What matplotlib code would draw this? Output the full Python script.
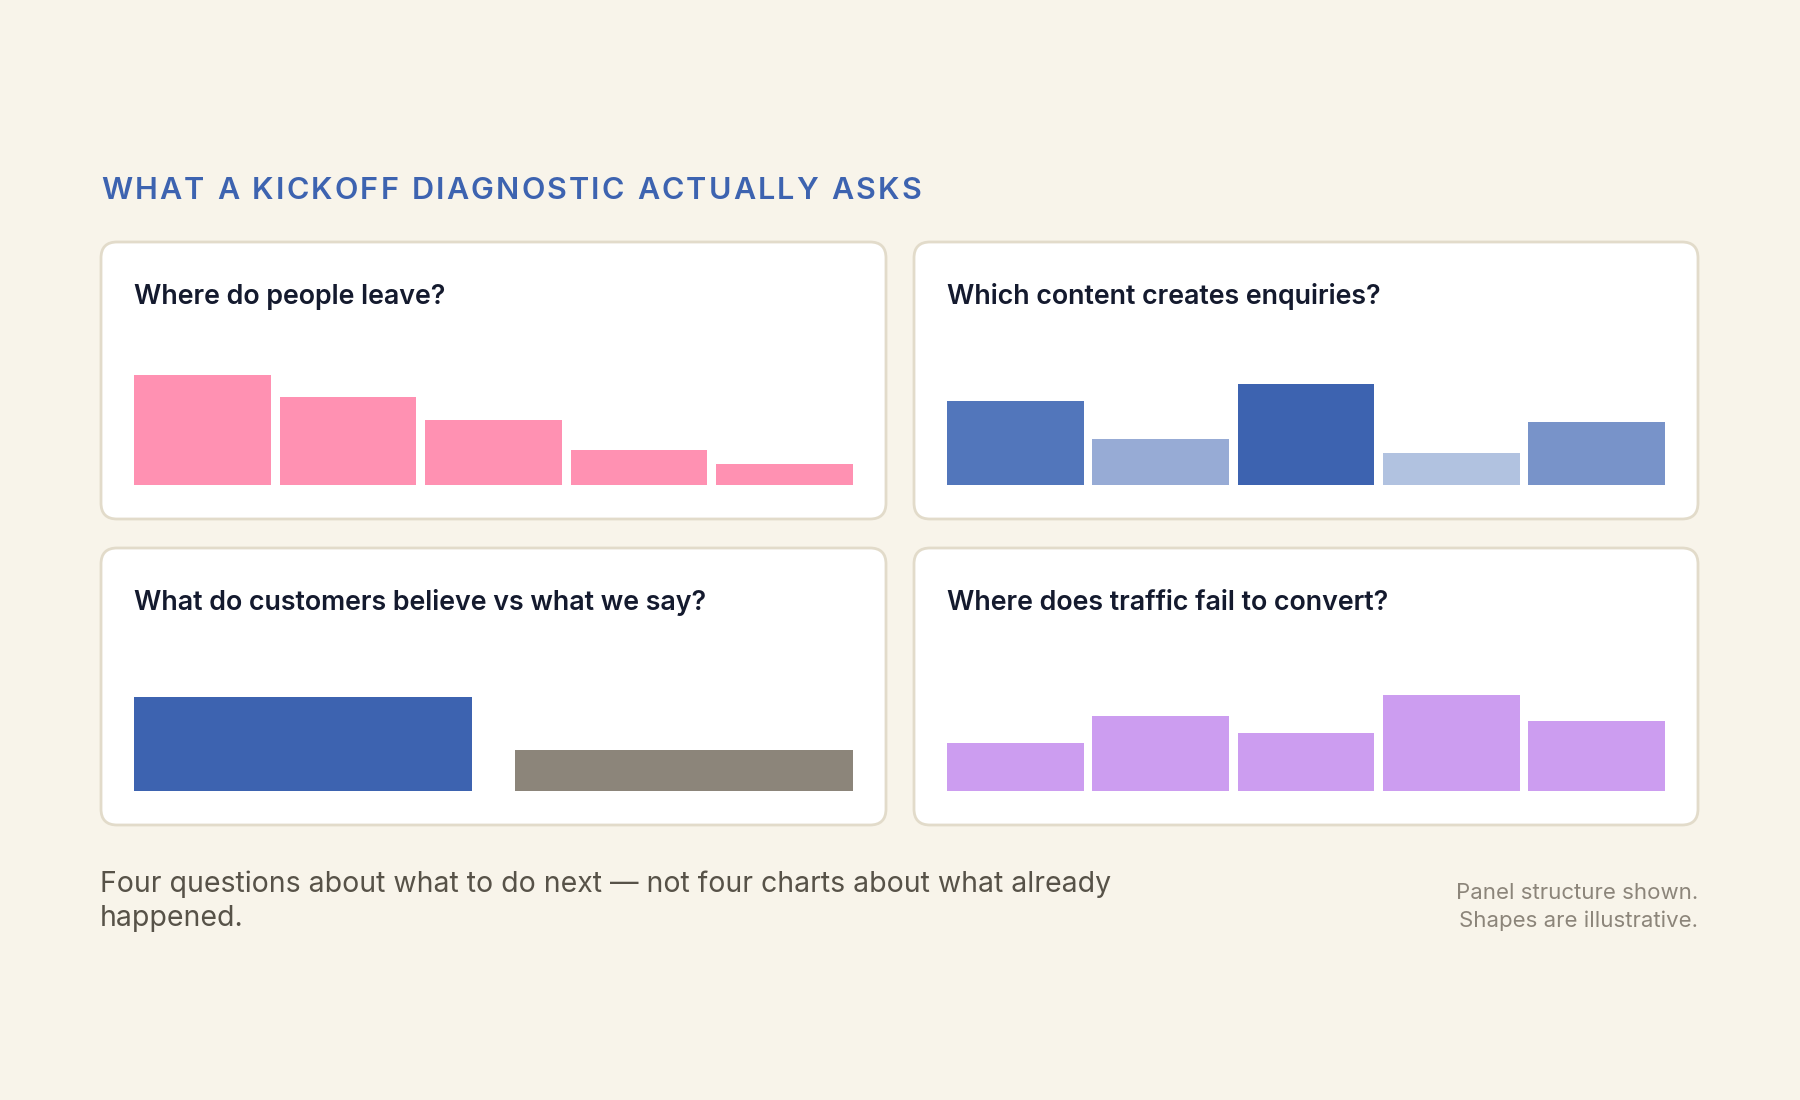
import matplotlib
matplotlib.use("Agg")
import matplotlib.pyplot as plt
from matplotlib.patches import FancyBboxPatch
from matplotlib.font_manager import FontProperties

# Data (bar heights are illustrative index values)
title = "WHAT A KICKOFF DIAGNOSTIC ACTUALLY ASKS"
questions = [
    "Where do people leave?",
    "Which content creates enquiries?",
    "What do customers believe vs what we say?",
    "Where does traffic fail to convert?",
]
leave_values = [110, 88, 65, 35, 21]
content_values = [84, 46, 101, 32, 63]
belief_values = [94, 41]
convert_values = [48, 75, 58, 96, 70]
footer_lines = ["Four questions about what to do next \u2014 not four charts about what already",
                "happened."]
note_lines = ["Panel structure shown.", "Shapes are illustrative."]

# Colours
BG = "#F8F4EA"
BORDER = "#E2DBCA"
BLUE = "#3D63B0"
INK = "#141A2E"
pink = "#FF91B2"
content_colors = ["#5276BB", "#97ABD5", "#3D63B0", "#B1C2E0", "#7893C9"]
belief_colors = ["#3D63B0", "#8C857A"]
purple = "#CC9DF0"

FONT = ["Inter", "DejaVu Sans"]
plt.rcParams["font.family"] = FONT

W, H = 1800, 1100
fig = plt.figure(figsize=(18, 11), dpi=100, facecolor=BG)
bg = fig.add_axes([0, 0, 1, 1])
bg.set_xlim(0, W)
bg.set_ylim(H, 0)
bg.axis("off")
bg.set_facecolor(BG)

renderer = fig.canvas.get_renderer()


def spaced_text(ax, x, y, s, target_width, **kw):
    # matplotlib has no letter-spacing, so place characters one by one
    fp = FontProperties(family=FONT, weight=kw.get("fontweight", "normal"),
                        size=kw.get("fontsize", 12))
    em = fp.get_size_in_points() * fig.dpi / 72
    adv = []
    for ch in s:
        if ch == " ":
            adv.append(0.28 * em)
        else:
            adv.append(renderer.get_text_width_height_descent(ch, fp, ismath=False)[0])
    spacing = (target_width - sum(adv)) / (len(s) - 1)
    for ch, a in zip(s, adv):
        if ch != " ":
            ax.text(x, y, ch, va="baseline", ha="left", **kw)
        x += a + spacing


spaced_text(bg, 101, 199, title, 820, fontsize=22, fontweight="semibold", color=BLUE)

# panels: (left, top, right, bottom) in pixels
panels = [(101, 242, 886, 519), (914, 242, 1698, 519),
          (101, 548, 886, 825), (914, 548, 1698, 825)]
for (l, t, r, b) in panels:
    box = FancyBboxPatch((l, t), r - l, b - t,
                         boxstyle="round,pad=0,rounding_size=16",
                         facecolor="white", edgecolor=BORDER, linewidth=2)
    bg.add_patch(box)

for q, (l, t, r, b) in zip(questions, panels):
    bg.text(l + 33, t + 62, q, fontsize=19.3, fontweight="semibold", color=INK,
            va="baseline", ha="left")


def bar_axes(l, t, r, b):
    # bar area: 33px inset left/right, baseline 243px below panel top, 120px tall
    x0 = l + 33
    x1 = r - 33
    base = t + 243
    ax = fig.add_axes([x0 / W, 1 - base / H, (x1 - x0) / W, 120 / H])
    ax.set_ylim(0, 120)
    ax.axis("off")
    return ax


w5 = 0.94
ax1 = bar_axes(*panels[0])
ax1.bar(range(len(leave_values)), leave_values, width=w5, color=pink)
ax1.set_xlim(-w5 / 2, len(leave_values) - 1 + w5 / 2)

ax2 = bar_axes(*panels[1])
ax2.bar(range(len(content_values)), content_values, width=w5, color=content_colors)
ax2.set_xlim(-w5 / 2, len(content_values) - 1 + w5 / 2)

w2 = 0.887
ax3 = bar_axes(*panels[2])
ax3.bar(range(len(belief_values)), belief_values, width=w2, color=belief_colors)
ax3.set_xlim(-w2 / 2, len(belief_values) - 1 + w2 / 2)

ax4 = bar_axes(*panels[3])
ax4.bar(range(len(convert_values)), convert_values, width=w5, color=purple)
ax4.set_xlim(-w5 / 2, len(convert_values) - 1 + w5 / 2)

# footer
for i, line in enumerate(footer_lines):
    bg.text(100, 892 + 34 * i, line, fontsize=20.5, color="#575248",
            va="baseline", ha="left")
for i, line in enumerate(note_lines):
    bg.text(1698, 899 + 28 * i, line, fontsize=16, color="#8C857A",
            va="baseline", ha="right")

fig.savefig("out.png", dpi=100, facecolor=BG)
